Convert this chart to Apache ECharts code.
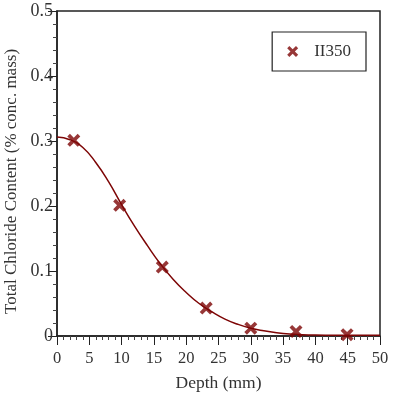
<!DOCTYPE html>
<html>
<head>
<meta charset="utf-8">
<script src="https://cdn.jsdelivr.net/npm/echarts@6/dist/echarts.min.js"></script>
<style>html,body{margin:0;padding:0;background:#fff}#c{width:396px;height:396px}</style>
</head>
<body>
<div id="c"></div>
<script>
const seriesName = 'II350';
const depth = [2.6, 9.7, 16.3, 23.1, 30.0, 37.0, 44.9];
const chloride = [0.301, 0.201, 0.106, 0.043, 0.012, 0.007, 0.002];
const fitDepth = [0, 2, 4, 6, 8, 10, 12, 14, 16, 18, 20, 22, 24, 26, 28, 30, 32, 34, 36, 38, 40, 45, 50];
const fitValue = [0.306, 0.302, 0.290, 0.267, 0.237, 0.202, 0.169, 0.139, 0.111, 0.087, 0.067, 0.050, 0.037, 0.026, 0.018, 0.012, 0.008, 0.005, 0.003, 0.002, 0.0015, 0.001, 0.001];
const xTicks = [0, 5, 10, 15, 20, 25, 30, 35, 40, 45, 50];
const yTicks = [0, 0.1, 0.2, 0.3, 0.4, 0.5];

const red = '#7d0505';
const font = '"Liberation Serif", "Times New Roman", serif';
const cross = 'path://M2,0 L5,3 L8,0 L10,2 L7,5 L10,8 L8,10 L5,7 L2,10 L0,8 L3,5 L0,2 Z';

const chart = echarts.init(document.getElementById('c'));
chart.setOption({
  animation: false,
  grid: {left: 57, top: 11, right: 16, bottom: 60, show: true, borderColor: '#222', borderWidth: 1.5,
         containLabel: false, outerBoundsMode: 'none'},
  legend: {
    data: [{name: seriesName, icon: cross}],
    right: 30, top: 32,
    itemWidth: 11, itemHeight: 11, itemGap: 10,
    padding: [11, 15, 11, 15],
    borderColor: '#222', borderWidth: 1.2, borderRadius: 0,
    textStyle: {fontFamily: font, fontSize: 17, color: '#333', padding: [0, 0, 0, 11]}
  },
  xAxis: {
    type: 'value', min: 0, max: 50, interval: 5,
    name: 'Depth (mm)', nameLocation: 'middle', nameGap: 38,
    nameTextStyle: {fontFamily: font, fontSize: 17.5, color: '#333'},
    axisLine: {lineStyle: {color: '#222', width: 1.5}},
    axisTick: {inside: false, length: 9, lineStyle: {color: '#222'}},
    minorTick: {show: true, splitNumber: 5, length: 4, lineStyle: {color: '#444'}},
    splitLine: {show: false},
    axisLabel: {fontFamily: font, fontSize: 16.5, color: '#333', margin: 14,
      formatter: v => xTicks.includes(v) ? String(v) : ''}
  },
  yAxis: {
    type: 'value', min: 0, max: 0.5, interval: 0.1,
    name: 'Total Chloride Content (% conc. mass)', nameLocation: 'middle', nameGap: 34,
    nameTextStyle: {fontFamily: font, fontSize: 17, color: '#333', padding: [0, 16, 0, 0]},
    axisLine: {show: true, lineStyle: {color: '#222', width: 1.5}},
    axisTick: {show: true, inside: false, length: 9, lineStyle: {color: '#222'}},
    minorTick: {show: true, splitNumber: 5, length: 4, lineStyle: {color: '#444'}},
    splitLine: {show: false},
    axisLabel: {fontFamily: font, fontSize: 18, color: '#333', margin: 4,
      formatter: v => { const t = yTicks.find(k => Math.abs(k - v) < 1e-9); return t === undefined ? '' : (t === 0 ? '0' : t.toFixed(1)); }}
  },
  series: [
    {
      name: 'fit', type: 'line', smooth: true, showSymbol: false, symbol: 'none',
      data: fitDepth.map((d, i) => [d, fitValue[i]]),
      lineStyle: {color: red, width: 1.5}, z: 2
    },
    {
      name: seriesName, type: 'scatter', symbol: cross, symbolSize: 13,
      data: depth.map((d, i) => [d, chloride[i]]),
      itemStyle: {color: red}, z: 3
    }
  ]
});
</script>
</body>
</html>
